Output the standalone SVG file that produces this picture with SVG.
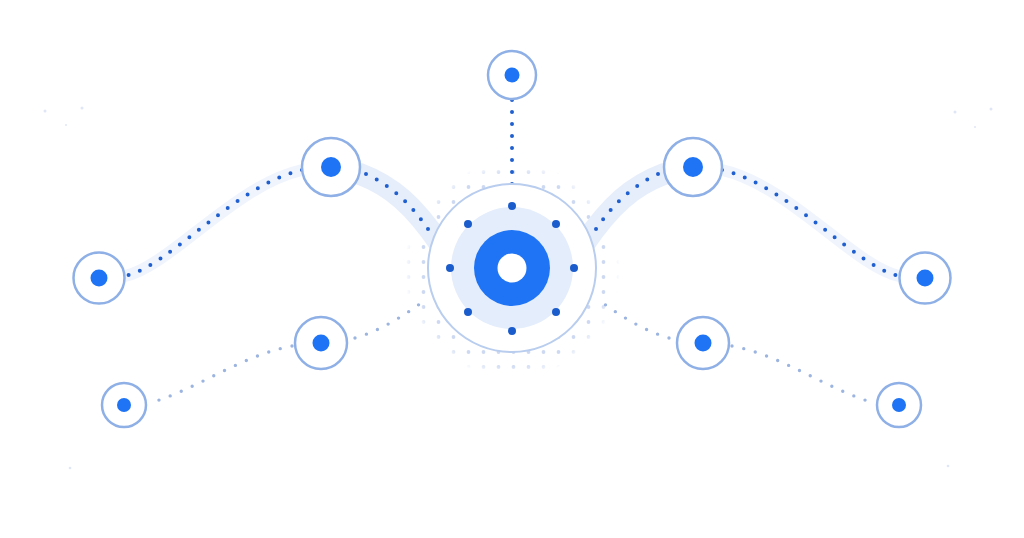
<svg xmlns="http://www.w3.org/2000/svg" width="1024" height="538" viewBox="0 0 1024 538">
<defs>
<style>
.node-ring{fill:#ffffff;stroke:#8fb0e6;stroke-width:2.5}
.node-dot{fill:#1f74f5}
.band{fill:none;stroke:#e7eefb;stroke-linecap:round}
.glow{fill:none;stroke:#f0f5fd;stroke-width:12;stroke-linecap:round}
.dots-dark{fill:none;stroke:#1f5fcf;stroke-width:4;stroke-linecap:round;stroke-dasharray:0 12}
.dots-light{fill:none;stroke:#9cb4e0;stroke-width:3.4;stroke-linecap:round;stroke-dasharray:0 12}
.speck{fill:#dfe6f5}
</style>
<pattern id="grid" x="0" y="0" width="15" height="15" patternUnits="userSpaceOnUse">
<circle cx="3.5" cy="7" r="1.9" fill="#cdd9f2"/>
</pattern>
<radialGradient id="fade" cx="0.5" cy="0.5" r="0.5">
<stop offset="0.88" stop-color="#fff" stop-opacity="1"/>
<stop offset="1" stop-color="#fff" stop-opacity="0"/>
</radialGradient>
<mask id="gridMask">
<circle cx="512" cy="270" r="108" fill="url(#fade)"/>
</mask>
</defs>
<rect width="1024" height="538" fill="#ffffff"/>

<g id="specks">
<circle class="speck" cx="45" cy="111" r="1.5"/>
<circle class="speck" cx="82" cy="108" r="1.5"/>
<circle class="speck" cx="66" cy="125" r="1"/>
<circle class="speck" cx="955" cy="112" r="1.5"/>
<circle class="speck" cx="991" cy="109" r="1.5"/>
<circle class="speck" cx="975" cy="127" r="1"/>
<circle class="speck" cx="70" cy="468" r="1.3"/>
<circle class="speck" cx="948" cy="466" r="1.3"/>
</g>

<g id="dot-grid">
<rect x="400" y="160" width="224" height="220" fill="url(#grid)" mask="url(#gridMask)"/>
</g>

<g id="connectors">
<path class="band" stroke-width="22" d="M360,174 C392,186 414,206 440,244"/>
<path class="band" stroke-width="22" d="M664,174 C632,186 610,206 584,244"/>
<path class="glow" d="M125,276 C170,266 235,185 302,170"/>
<path class="glow" d="M899,276 C854,266 789,185 722,170"/>
<path class="dots-dark" d="M302,170 C235,185 170,266 125,276"/>
<path class="dots-dark" d="M722,170 C789,185 854,266 899,276"/>
<path class="dots-dark" d="M366,174 C392,186 412,205 430,232"/>
<path class="dots-dark" d="M658,174 C632,186 612,205 594,232"/>
<path class="dots-dark" d="M512,100 L512,190"/>
<path class="dots-light" d="M292,346 C240,356 200,388 150,403"/>
<path class="dots-light" d="M732,346 C784,356 824,388 874,403"/>
<path class="dots-light" d="M355,338 C382,330 405,315 428,298"/>
<path class="dots-light" d="M669,338 C642,330 619,315 596,298"/>
</g>

<g id="hub">
<circle cx="512" cy="268" r="84" fill="#ffffff" stroke="#b9cdee" stroke-width="2"/>
<circle cx="512" cy="268" r="61" fill="#e4edfb"/>
<circle cx="512" cy="268" r="38" fill="#1f74f5"/>
<circle cx="512" cy="268" r="14.5" fill="#ffffff"/>
<g fill="#1b5ccc">
<circle cx="512" cy="206" r="4"/>
<circle cx="556" cy="224" r="4"/>
<circle cx="574" cy="268" r="4"/>
<circle cx="556" cy="312" r="4"/>
<circle cx="512" cy="331" r="4"/>
<circle cx="468" cy="312" r="4"/>
<circle cx="450" cy="268" r="4"/>
<circle cx="468" cy="224" r="4"/>
</g>
</g>

<g id="node-top"><circle class="node-ring" cx="512" cy="75" r="24"/><circle class="node-dot" cx="512" cy="75" r="7.5"/></g>
<g id="node-left-upper"><circle class="node-ring" cx="331" cy="167" r="29"/><circle class="node-dot" cx="331" cy="167" r="10"/></g>
<g id="node-left-far"><circle class="node-ring" cx="99" cy="278" r="25.5"/><circle class="node-dot" cx="99" cy="278" r="8.5"/></g>
<g id="node-left-mid"><circle class="node-ring" cx="321" cy="343" r="26"/><circle class="node-dot" cx="321" cy="343" r="8.5"/></g>
<g id="node-left-low"><circle class="node-ring" cx="124" cy="405" r="22"/><circle class="node-dot" cx="124" cy="405" r="7"/></g>
<g id="node-right-upper"><circle class="node-ring" cx="693" cy="167" r="29"/><circle class="node-dot" cx="693" cy="167" r="10"/></g>
<g id="node-right-far"><circle class="node-ring" cx="925" cy="278" r="25.5"/><circle class="node-dot" cx="925" cy="278" r="8.5"/></g>
<g id="node-right-mid"><circle class="node-ring" cx="703" cy="343" r="26"/><circle class="node-dot" cx="703" cy="343" r="8.5"/></g>
<g id="node-right-low"><circle class="node-ring" cx="899" cy="405" r="22"/><circle class="node-dot" cx="899" cy="405" r="7"/></g>
</svg>
